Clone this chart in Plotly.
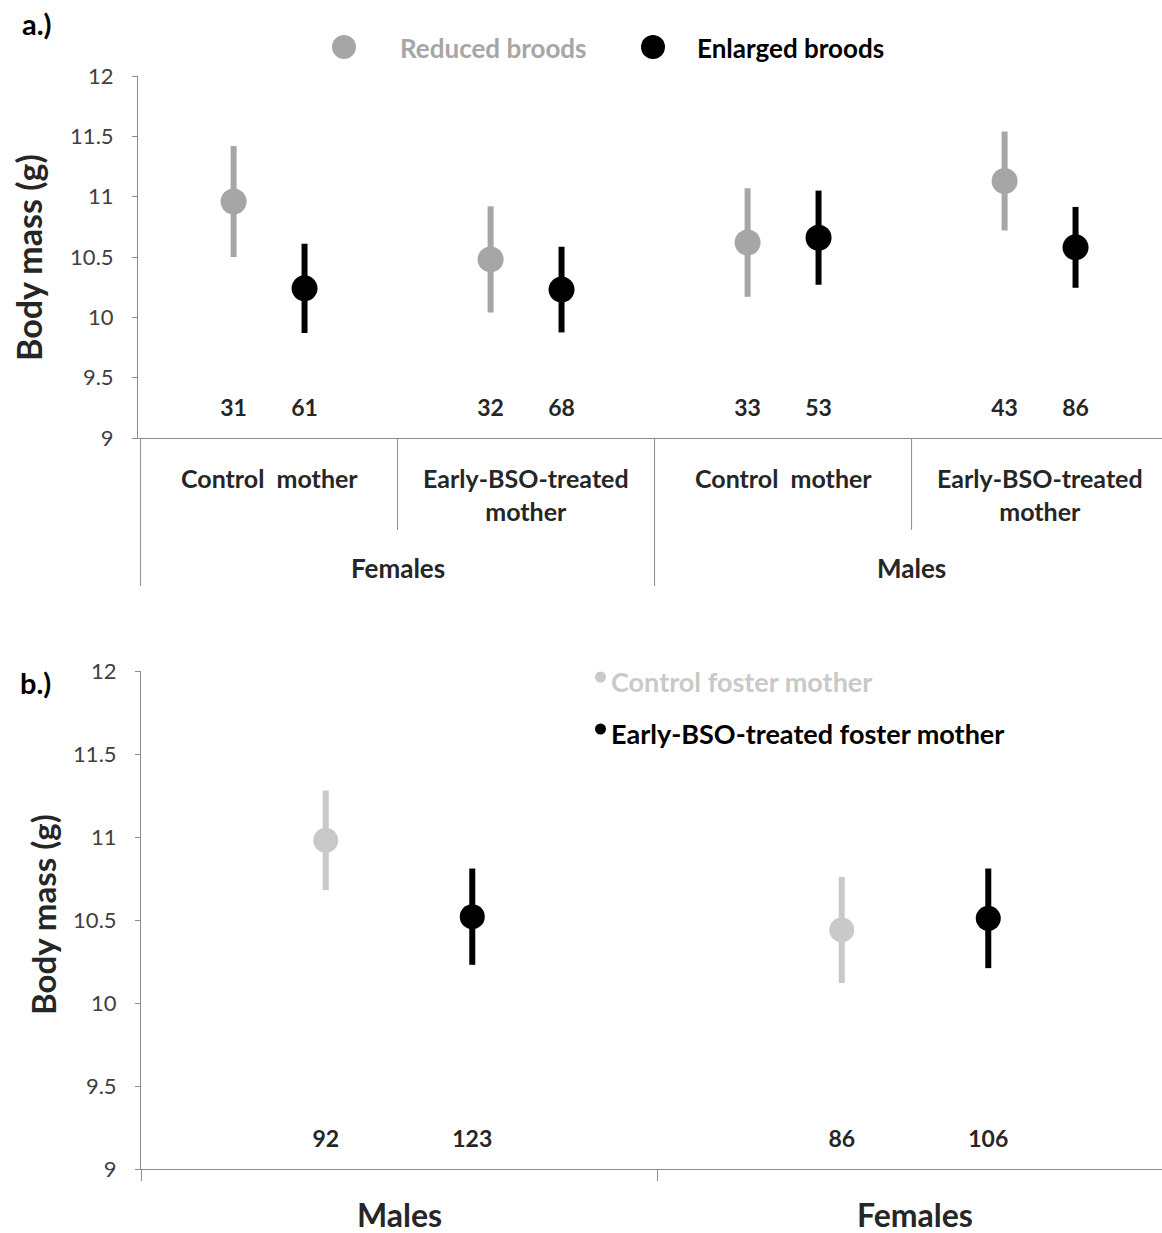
import plotly.graph_objects as go

# ---------------- data ----------------
# Panel a: four groups (sex x mother treatment)
groups_a = ["Control&nbsp; mother", "Early-BSO-treated<br>mother",
            "Control&nbsp; mother", "Early-BSO-treated<br>mother"]
sex_a = ["Females", "Males"]
reduced_mean = [10.96, 10.48, 10.62, 11.13]
reduced_err = [0.46, 0.44, 0.45, 0.41]
reduced_n = [31, 32, 33, 43]
enlarged_mean = [10.24, 10.23, 10.66, 10.58]
enlarged_err = [0.37, 0.355, 0.39, 0.335]
enlarged_n = [61, 68, 53, 86]

# Panel b: two sexes
groups_b = ["Males", "Females"]
control_mean = [10.98, 10.44]
control_err = [0.30, 0.32]
control_n = [92, 86]
bso_mean = [10.52, 10.51]
bso_err = [0.29, 0.30]
bso_n = [123, 106]

y_ticks = [9, 9.5, 10, 10.5, 11, 11.5, 12]
y_ticktext = ["9", "9.5", "10", "10.5", "11", "11.5", "12"]

# ---------------- style ----------------
W, H = 1162, 1233
FONT = "Lato"
GREY_A = "#a6a6a6"
GREY_B = "#c9c9c9"
AXC = "#8c8c8c"
TXT = "#262626"

def px(x):
    return x / W

def py(y):
    return 1 - y / H

off_a = 0.138
off_b = 0.142
xa_c = [i + 0.5 for i in range(len(groups_a))]
xb_c = [i + 0.5 for i in range(len(groups_b))]

fig = go.Figure()

def add_pts(x, y, err, color, xa, ya, size=26):
    fig.add_trace(go.Scatter(
        x=x, y=y, mode="markers", xaxis=xa, yaxis=ya, showlegend=False,
        marker=dict(color=color, size=size, line=dict(width=0)),
        error_y=dict(type="data", array=err, visible=True, color=color,
                     thickness=6, width=0),
        hoverinfo="x+y"))

def add_n(x, y, n, xa, ya, size):
    fig.add_trace(go.Scatter(
        x=x, y=[y] * len(x), mode="text", xaxis=xa, yaxis=ya, showlegend=False,
        text=[f"<b>{v}</b>" for v in n],
        textfont=dict(family=FONT, size=size, color=TXT),
        textposition="middle center", hoverinfo="skip"))

# panel a
add_pts([c - off_a for c in xa_c], reduced_mean, reduced_err, GREY_A, "x", "y")
add_pts([c + off_a for c in xa_c], enlarged_mean, enlarged_err, "#000000", "x", "y")
add_n([c - off_a for c in xa_c], 9.23, reduced_n, "x", "y", 23)
add_n([c + off_a for c in xa_c], 9.23, enlarged_n, "x", "y", 23)

# panel b
add_pts([c - off_b for c in xb_c], control_mean, control_err, GREY_B, "x2", "y2", 25)
add_pts([c + off_b for c in xb_c], bso_mean, bso_err, "#000000", "x2", "y2", 25)
add_n([c - off_b for c in xb_c], 9.17, control_n, "x2", "y2", 23)
add_n([c + off_b for c in xb_c], 9.17, bso_n, "x2", "y2", 23)

yax_common = dict(range=[9, 12], tickvals=y_ticks, ticktext=y_ticktext,
                  showline=True, linecolor=AXC, linewidth=1, ticks="outside",
                  ticklen=5, tickcolor=AXC, showgrid=False, zeroline=False,
                  automargin=False, ticklabelstandoff=14,
                  tickfont=dict(family=FONT, size=22, color="#404040"))

fig.update_layout(
    template="none",
    width=W, height=H, margin=dict(l=0, r=0, t=0, b=0, pad=0, autoexpand=False),
    paper_bgcolor="white", plot_bgcolor="white", showlegend=False,
    xaxis=dict(domain=[px(138), 1.0], range=[-0.01, (W - 138) / 257 - 0.01], anchor="y",
               showline=True, linecolor=AXC, linewidth=1, showticklabels=False,
               ticks="", showgrid=False, zeroline=False, automargin=False),
    yaxis=dict(domain=[py(438), py(76)], anchor="x", **yax_common),
    xaxis2=dict(domain=[px(141), 1.0], range=[0, (W - 141) / 516], anchor="y2",
                showline=True, linecolor=AXC, linewidth=1, showticklabels=False,
                tickvals=[0, 1, 2], ticks="outside", ticklen=11, tickcolor=AXC,
                showgrid=False, zeroline=False, automargin=False),
    yaxis2=dict(domain=[py(1169), py(671)], anchor="x2", **yax_common),
)

shapes = []
# panel a category dividers below the axis
for i in range(len(groups_a) + 1):
    end = 586 if i % 2 == 0 else 530
    shapes.append(dict(type="line", xref="x", yref="paper", x0=i, x1=i,
                       y0=py(438), y1=py(end), line=dict(color=AXC, width=1)))

annos = []
for i, g in enumerate(groups_a):
    annos.append(dict(xref="x", yref="paper", x=xa_c[i], y=py(461), text=f"<b>{g}</b>",
                      showarrow=False, yanchor="top", xanchor="center",
                      font=dict(family=FONT, size=25, color=TXT)))
for j, s in enumerate(sex_a):
    annos.append(dict(xref="x", yref="paper", x=2 * j + 1, y=py(568), text=f"<b>{s}</b>",
                      showarrow=False, yanchor="middle", xanchor="center",
                      font=dict(family=FONT, size=26, color=TXT)))
for i, g in enumerate(groups_b):
    annos.append(dict(xref="x2", yref="paper", x=xb_c[i], y=py(1214), text=f"<b>{g}</b>",
                      showarrow=False, yanchor="middle", xanchor="center",
                      font=dict(family=FONT, size=32, color=TXT)))

# panel letters
annos.append(dict(xref="paper", yref="paper", x=px(20), y=py(24), text="<b>a.)</b>",
                  showarrow=False, xanchor="left", yanchor="middle",
                  font=dict(family=FONT, size=29, color="#000000")))
annos.append(dict(xref="paper", yref="paper", x=px(18), y=py(683), text="<b>b.)</b>",
                  showarrow=False, xanchor="left", yanchor="middle",
                  font=dict(family=FONT, size=29, color="#000000")))

# y-axis titles
annos.append(dict(xref="paper", yref="paper", x=px(29), y=py(258), text="<b>Body mass (g)</b>",
                  textangle=-90, showarrow=False, xanchor="center", yanchor="middle",
                  font=dict(family=FONT, size=34, color=TXT)))
annos.append(dict(xref="paper", yref="paper", x=px(43), y=py(915), text="<b>Body mass (g)</b>",
                  textangle=-90, showarrow=False, xanchor="center", yanchor="middle",
                  font=dict(family=FONT, size=33, color=TXT)))

# legend panel a
leg_a = [("Reduced broods", GREY_A, 344, 398), ("Enlarged broods", "#000000", 653, 695)]
for name, col, cx, tx in leg_a:
    shapes.append(dict(type="circle", xref="paper", yref="paper",
                       x0=px(cx - 12), x1=px(cx + 12), y0=py(47 + 12), y1=py(47 - 12),
                       fillcolor=col, line=dict(width=0)))
    annos.append(dict(xref="paper", yref="paper", x=px(tx), y=py(48), text=f"<b>{name}</b>",
                      showarrow=False, xanchor="left", yanchor="middle",
                      font=dict(family=FONT, size=26, color=col)))

# legend panel b
leg_b = [("Control foster mother", GREY_B, 677), ("Early-BSO-treated foster mother", "#000000", 729)]
for name, col, cy in leg_b:
    shapes.append(dict(type="circle", xref="paper", yref="paper",
                       x0=px(595), x1=px(606), y0=py(cy + 5.5), y1=py(cy - 5.5),
                       fillcolor=col, line=dict(width=0)))
    annos.append(dict(xref="paper", yref="paper", x=px(609), y=py(cy + 4), text=f"<b>{name}</b>",
                      showarrow=False, xanchor="left", yanchor="middle",
                      font=dict(family=FONT, size=27, color=col)))

fig.update_layout(shapes=shapes, annotations=annos)
fig.write_html("out.html", config={"displayModeBar": False},
               post_script="document.body.style.margin='0';document.body.style.overflow='hidden';")
